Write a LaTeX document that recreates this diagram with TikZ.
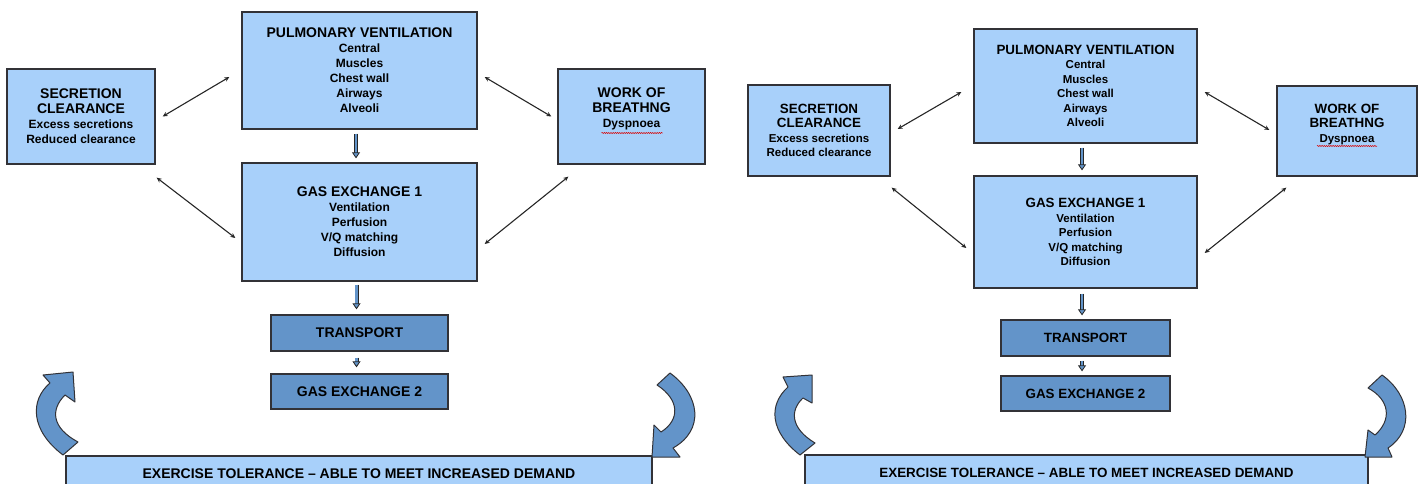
\documentclass[tikz,border=0pt]{standalone}
\usepackage{fontspec}
\setmainfont{Liberation Sans}
\usetikzlibrary{arrows.meta,decorations.pathmorphing}
\definecolor{boxfill}{RGB}{168,208,250}
\definecolor{deepfill}{RGB}{99,148,201}
\definecolor{boxrule}{RGB}{50,50,55}
\newcommand{\hd}[1]{{\fontsize{14}{16}\selectfont #1}}
\newcommand{\hds}[1]{{\fontsize{13.4}{15}\selectfont #1}}
\tikzset{
  stage/.style={rectangle,draw=boxrule,line width=1.3pt,fill=boxfill,align=center,inner sep=0pt,font=\bfseries\fontsize{12}{15}\selectfont},
  smallstage/.style={stage,font=\bfseries\fontsize{11.5}{14.5}\selectfont},
  deepstage/.style={stage,fill=deepfill},
  smalldeep/.style={smallstage,fill=deepfill},
  link/.style={{Stealth[length=5pt,width=4.5pt]}-{Stealth[length=5pt,width=4.5pt]},line width=1.1pt,draw=black!85},
  pipe/.style={line width=0.9pt,draw=black!85,double=deepfill,double distance=2.2pt,-{Triangle[length=6pt,width=8pt,color=black!85,fill=deepfill,line width=0.8pt]}},
  turn/.style={fill=deepfill,draw=boxrule,line width=1pt,line join=round},
  squiggle/.style={draw=red!85!black,line width=0.5pt,decorate,decoration={snake,amplitude=0.6pt,segment length=2.2pt}}
}
\begin{document}
\begin{tikzpicture}[x=1pt,y=-1pt]
  \useasboundingbox (0,0) rectangle (1420,484);

  % left panel
  \node[stage,minimum width=235pt,minimum height=117pt] (lpv) at (359.5,70.5) {\hd{PULMONARY VENTILATION}\\Central\\Muscles\\Chest wall\\Airways\\Alveoli};
  \node[stage,minimum width=148pt,minimum height=95pt] (lsec) at (81,116.5) {\hd{SECRETION}\\\hd{CLEARANCE}\\Excess secretions\\Reduced clearance};
  \node[stage,minimum width=147pt,minimum height=95pt,text depth=17pt] (lwob) at (631.5,116.5) {\hd{WORK OF}\\\hd{BREATHNG}\\Dyspnoea};
  \node[stage,minimum width=235pt,minimum height=118pt] (lge1) at (359.5,222) {\hd{GAS EXCHANGE 1}\\Ventilation\\Perfusion\\V/Q matching\\Diffusion};
  \node[deepstage,minimum width=177pt,minimum height=36pt] (ltr) at (359.5,333) {\hd{TRANSPORT}};
  \node[deepstage,minimum width=177pt,minimum height=35pt] (lge2) at (359.5,391.5) {\hd{GAS EXCHANGE 2}};
  \node[stage,minimum width=586pt,minimum height=36pt] (lbar) at (359,474) {\hd{EXERCISE TOLERANCE – ABLE TO MEET INCREASED DEMAND}};
  \draw[squiggle] ([xshift=-30pt,yshift=-16.5pt]lwob.center) -- ([xshift=31pt,yshift=-16.5pt]lwob.center);

  \draw[link] ([xshift=7pt]lsec.east) -- ([xshift=-12pt,yshift=-6.5pt]lpv.west);
  \draw[link] ([xshift=1pt,yshift=-13pt]lsec.south east) -- ([xshift=-6pt,yshift=-16pt]lge1.west);
  \draw[link] ([xshift=7pt,yshift=-6.5pt]lpv.east) -- ([xshift=-6pt]lwob.west);
  \draw[link] ([xshift=7pt,yshift=-22pt]lge1.east) -- ([xshift=11pt,yshift=-12pt]lwob.south west);
  \draw[pipe,shorten <=4pt,shorten >=4pt] ([xshift=-3.5pt]lpv.south) -- ([xshift=-3.5pt]lge1.north);
  \draw[pipe,shorten <=3pt,shorten >=5pt] ([xshift=-3pt]lge1.south) -- ([xshift=-3pt]ltr.north);
  \draw[pipe,shorten <=6pt,shorten >=6pt] ([xshift=-3pt]ltr.south) -- ([xshift=-3pt]lge2.north);

  \draw[turn] (63,455) .. controls (30,430) and (30,400) .. (50,383) -- (43,375) -- (73,372) -- (75,402) -- (65,395)
    .. controls (50,410) and (52,428) .. (78,442) -- cycle;
  \draw[turn] (670,373) .. controls (700,395) and (705,430) .. (673,448) -- (680,457) -- (652,457) -- (654,425) -- (661,432)
    .. controls (680,420) and (680,400) .. (657,385) -- cycle;

  % right panel
  \node[smallstage,minimum width=223pt,minimum height=114pt] (rpv) at (1085.5,86) {\hds{PULMONARY VENTILATION}\\Central\\Muscles\\Chest wall\\Airways\\Alveoli};
  \node[smallstage,minimum width=142pt,minimum height=91pt] (rsec) at (819,130.5) {\hds{SECRETION}\\\hds{CLEARANCE}\\Excess secretions\\Reduced clearance};
  \node[smallstage,minimum width=140pt,minimum height=90pt,text depth=16pt] (rwob) at (1347,131) {\hds{WORK OF}\\\hds{BREATHNG}\\Dyspnoea};
  \node[smallstage,minimum width=223pt,minimum height=112pt] (rge1) at (1085.5,232) {\hds{GAS EXCHANGE 1}\\Ventilation\\Perfusion\\V/Q matching\\Diffusion};
  \node[smalldeep,minimum width=169pt,minimum height=36pt] (rtr) at (1085.5,338) {\hds{TRANSPORT}};
  \node[smalldeep,minimum width=169pt,minimum height=35pt] (rge2) at (1085.5,393.5) {\hds{GAS EXCHANGE 2}};
  \node[smallstage,minimum width=563pt,minimum height=36pt] (rbar) at (1086.5,473) {\hds{EXERCISE TOLERANCE – ABLE TO MEET INCREASED DEMAND}};
  \draw[squiggle] ([xshift=-30pt,yshift=-15pt]rwob.center) -- ([xshift=30pt,yshift=-15pt]rwob.center);

  \draw[link] ([xshift=7pt,yshift=1.5pt]rsec.east) -- ([xshift=-12pt,yshift=-6pt]rpv.west);
  \draw[link] ([xshift=1pt,yshift=-11pt]rsec.south east) -- ([xshift=-7pt,yshift=-16pt]rge1.west);
  \draw[link] ([xshift=7pt,yshift=-6pt]rpv.east) -- ([xshift=-7pt,yshift=1pt]rwob.west);
  \draw[link] ([xshift=7pt,yshift=-21pt]rge1.east) -- ([xshift=10pt,yshift=-11pt]rwob.south west);
  \draw[pipe,shorten <=4pt,shorten >=5pt] ([xshift=-3.5pt]rpv.south) -- ([xshift=-3.5pt]rge1.north);
  \draw[pipe,shorten <=5pt,shorten >=4pt] ([xshift=-3.5pt]rge1.south) -- ([xshift=-3.5pt]rtr.north);
  \draw[pipe,shorten <=4pt,shorten >=4pt] ([xshift=-3.5pt]rtr.south) -- ([xshift=-3.5pt]rge2.north);

  \draw[turn] (800,455) .. controls (770,432) and (768,405) .. (788,387) -- (783,377) -- (812,375) -- (812,403) -- (803,398)
    .. controls (790,410) and (790,428) .. (815,443) -- cycle;
  \draw[turn] (1382,375) .. controls (1410,395) and (1415,430) .. (1388,448) -- (1392,457) -- (1365,457) -- (1368,430) -- (1375,435)
    .. controls (1392,420) and (1390,400) .. (1368,388) -- cycle;
\end{tikzpicture}
\end{document}
